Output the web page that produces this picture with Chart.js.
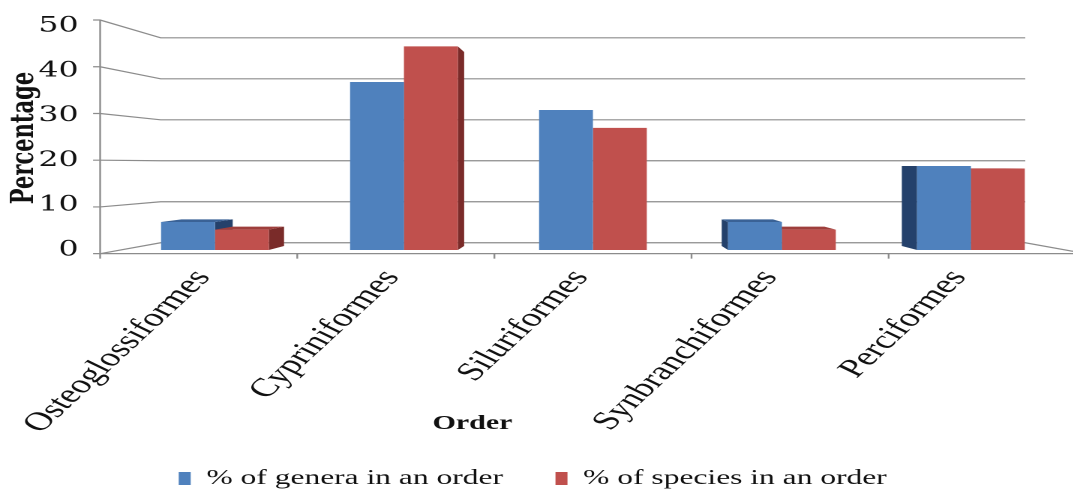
<!DOCTYPE html>
<html>
<head>
<meta charset="utf-8">
<script src="https://cdn.jsdelivr.net/npm/chart.js@4.4.1/dist/chart.umd.min.js"></script>
<style>
  html, body { margin: 0; padding: 0; background: #fff; overflow: hidden; }
  /* the original picture is stretched sideways, so draw narrow and scale x by 1.5 */
  #wrap { width: 715.33px; height: 490px; transform: scale(1.5, 1); transform-origin: 0 0; }
</style>
</head>
<body>
<div id="wrap"><canvas id="orderChart"></canvas></div>
<script>
const orders = ['Osteoglossiformes', 'Cypriniformes', 'Siluriformes', 'Synbranchiformes', 'Perciformes'];
const generaPct = [6.25, 37.5, 31.25, 6.25, 18.75];
const speciesPct = [4.55, 45.45, 27.27, 4.55, 18.18];
const seriesNames = ['% of genera in an order', '% of species in an order'];
const yMax = 50;
const yStep = 10;

// perspective look (styling only)
const EYE_LEVEL = 19;
const DEPTH_FRONT = -0.043;
const DEPTH_BAR = 0.047;
const DEPTH_BACK = 0.085;
const faceColors = [
  { side: '#24416B', top: '#3A6296' },
  { side: '#7A2B29', top: '#9E3F3C' }
];

const perspective3d = {
  id: 'perspective3d',
  beforeDatasetsDraw(chart) {
    const { ctx, chartArea: a, scales: { x, y } } = chart;
    const vx = x.getPixelForValue(Math.floor(orders.length / 2));
    const vy = y.getPixelForValue(EYE_LEVEL);
    const proj = (px, py, s) => [px + (vx - px) * s, py + (vy - py) * s];
    const p0 = y.getPixelForValue(0);

    ctx.save();
    ctx.strokeStyle = '#8c8c8c';
    ctx.lineWidth = 1.2;

    // side wall + back wall lines
    y.ticks.forEach(t => {
      const p = y.getPixelForValue(t.value);
      const f = proj(a.left, p, DEPTH_FRONT);
      const bl = proj(a.left, p, DEPTH_BACK);
      const br = proj(a.right, p, DEPTH_BACK);
      ctx.beginPath();
      ctx.moveTo(f[0] - 4.7, f[1]);
      ctx.lineTo(f[0], f[1]);
      ctx.lineTo(bl[0], bl[1]);
      ctx.lineTo(br[0], br[1]);
      if (t.value === 0) {
        const fr = proj(a.right, p, DEPTH_FRONT);
        ctx.lineTo(fr[0], fr[1]);
      }
      ctx.stroke();
    });

    // front value axis
    const fTop = proj(a.left, y.getPixelForValue(y.max), DEPTH_FRONT);
    const fBot = proj(a.left, p0, DEPTH_FRONT);
    ctx.beginPath();
    ctx.moveTo(fTop[0], fTop[1]);
    ctx.lineTo(fBot[0], fBot[1]);
    ctx.lineTo(chart.width, fBot[1]);
    ctx.stroke();

    // category ticks on front floor edge
    const catW = x.getPixelForValue(1) - x.getPixelForValue(0);
    for (let i = 0; i <= orders.length; i++) {
      const b = proj(x.getPixelForValue(0) - catW / 2 + i * catW, p0, DEPTH_FRONT);
      ctx.beginPath();
      ctx.moveTo(b[0], b[1]);
      ctx.lineTo(b[0], b[1] + 5);
      ctx.stroke();
    }

    // bar side and top faces, far ones first
    const faces = [];
    chart.data.datasets.forEach((ds, di) => {
      chart.getDatasetMeta(di).data.forEach(bar => faces.push({ bar, di }));
    });
    faces.sort((p, q) => Math.abs(q.bar.x - vx) - Math.abs(p.bar.x - vx));
    const poly = (pts, color) => {
      ctx.beginPath();
      ctx.moveTo(pts[0][0], pts[0][1]);
      pts.slice(1).forEach(pt => ctx.lineTo(pt[0], pt[1]));
      ctx.closePath();
      ctx.fillStyle = color;
      ctx.fill();
    };
    faces.forEach(({ bar, di }) => {
      const { x: cx, y: top, base: bottom, width: w } = bar.getProps(['x', 'y', 'base', 'width'], true);
      const l = cx - w / 2, r = cx + w / 2;
      const col = faceColors[di];
      if (vx > r + 0.5) {
        poly([[r, top], proj(r, top, DEPTH_BAR), proj(r, bottom, DEPTH_BAR), [r, bottom]], col.side);
      } else if (vx < l - 0.5) {
        poly([[l, top], proj(l, top, DEPTH_BAR), proj(l, bottom, DEPTH_BAR), [l, bottom]], col.side);
      }
      if (vy < top) {
        poly([[l, top], proj(l, top, DEPTH_BAR), proj(r, top, DEPTH_BAR), [r, top]], col.top);
      }
    });
    ctx.restore();
  },
  afterDraw(chart) {
    const { ctx, chartArea: a } = chart;
    ctx.save();
    ctx.font = 'bold 20px "Liberation Serif"';
    ctx.fillStyle = '#111';
    ctx.textAlign = 'center';
    ctx.textBaseline = 'middle';
    ctx.fillText('Order', a.left + a.width * 0.3725, a.bottom + 174);
    ctx.restore();
  }
};

new Chart(document.getElementById('orderChart'), {
  type: 'bar',
  data: {
    labels: orders,
    datasets: [
      { label: seriesNames[0], data: generaPct, backgroundColor: '#4F81BD', borderWidth: 0 },
      { label: seriesNames[1], data: speciesPct, backgroundColor: '#C0504D', borderWidth: 0 }
    ]
  },
  options: {
    responsive: true,
    maintainAspectRatio: false,
    animation: false,
    devicePixelRatio: 2,
    layout: { padding: { top: 26, right: 5, left: 0, bottom: -9 } },
    datasets: { bar: { barPercentage: 1, categoryPercentage: 0.57 } },
    scales: {
      x: {
        grid: { display: false },
        border: { display: false },
        ticks: {
          autoSkip: false,
          minRotation: 54,
          maxRotation: 54,
          padding: 6,
          labelOffset: -8,
          color: '#111',
          font: { family: 'Liberation Serif', size: 26 }
        },
        afterFit: s => { s.height = 183; }
      },
      y: {
        min: 0,
        max: yMax,
        grid: { display: false },
        border: { display: false },
        ticks: {
          stepSize: yStep,
          padding: 20,
          color: '#111',
          font: { family: 'DejaVu Serif', size: 21 }
        },
        title: {
          display: true,
          text: 'Percentage',
          color: '#111',
          font: { family: 'DejaVu Serif', size: 21, weight: 'bold' }
        },
        afterFit: s => {
          s.width = 80.3;
          s.paddingTop = 0;
          s.paddingBottom = 0;
        }
      }
    },
    plugins: {
      tooltip: { enabled: false },
      legend: {
        position: 'bottom',
        labels: {
          boxWidth: 8,
          boxHeight: 13,
          padding: 35,
          color: '#111',
          font: { family: 'Liberation Serif', size: 21 }
        }
      }
    }
  },
  plugins: [perspective3d]
});
</script>
</body>
</html>
